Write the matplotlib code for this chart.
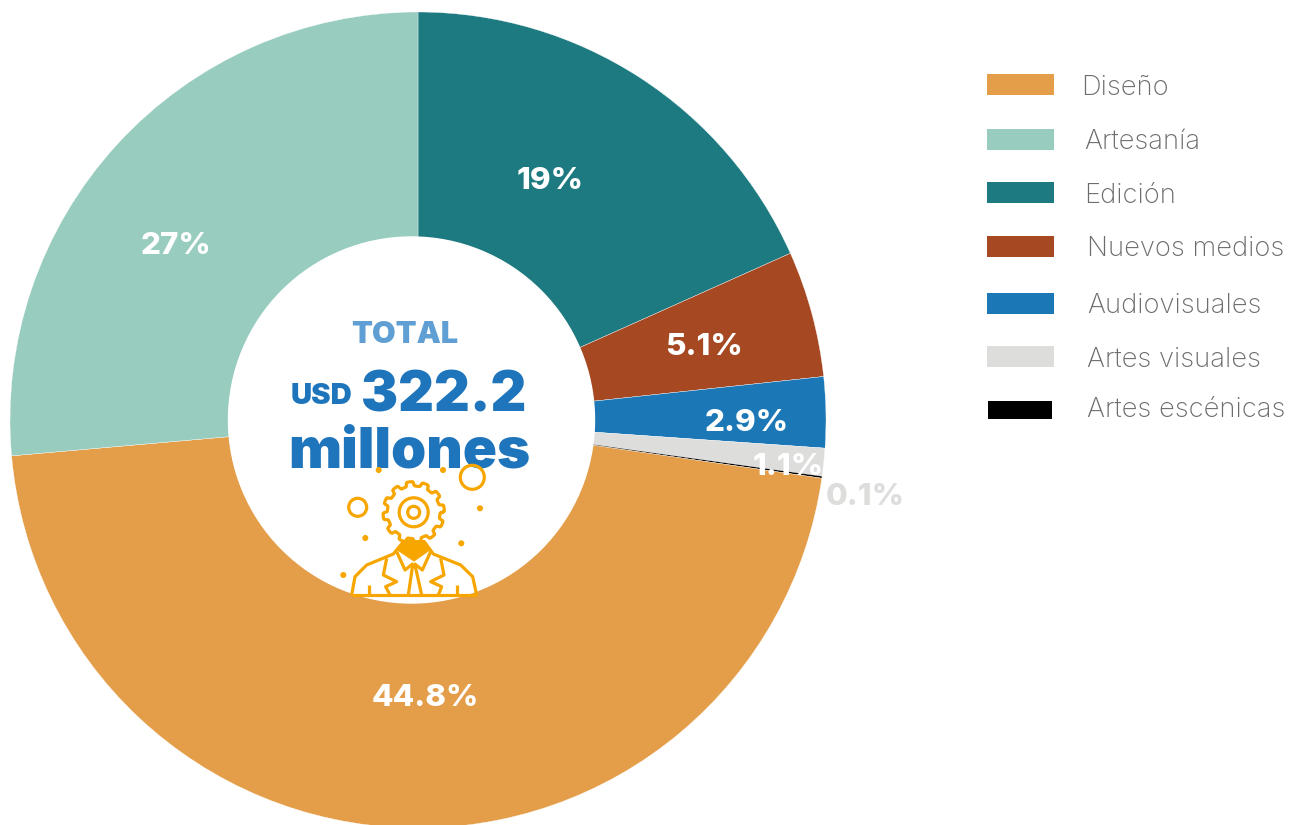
import matplotlib
matplotlib.use("Agg")
import matplotlib.pyplot as plt
import numpy as np
from matplotlib.patches import Circle, Polygon, Rectangle

# wedge shares as measured on the ring, printed labels differ a little
categories = ['Edición', 'Nuevos medios', 'Audiovisuales', 'Artes visuales', 'Artes escénicas', 'Diseño', 'Artesanía']
shares = [18.3, 5.0, 2.8, 1.1, 0.08, 46.32, 26.4]
labels = ['19%', '5.1%', '2.9%', '1.1%', '0.1%', '44.8%', '27%']
colors = ['#1d7a80', '#a64923', '#1b77b6', '#dddddc', '#000000', '#e49d48', '#97ccbf']

legend_order = [5, 6, 0, 1, 2, 3, 4]

W, H = 1291, 825
plt.rcParams['font.family'] = ['Inter', 'DejaVu Sans']

fig = plt.figure(figsize=(W / 100, H / 100), dpi=100)
ax = fig.add_axes([0, 0, 1, 1])

# y goes up in the axes, all layout below was measured in pixels from the top
def py(y):
    return H - y

# zoomed icon coordinates to pixels
def ic(points):
    return [(220 + x / 3, py(300 + y / 3)) for x, y in points]

ax.pie(shares, colors=colors, startangle=90, counterclock=False, center=(418, py(420)), radius=408,
       wedgeprops={'linewidth': 0.25, 'edgecolor': '#ffffff'}, frame=True)
ax.add_patch(Circle((411.5, py(420)), 183, color='white', zorder=3))

label_pos = [(550, 181), (704, 347), (747, 423), (788, 467), (865, 497), (425, 698), (176, 246)]
label_col = ['white', 'white', 'white', 'white', '#dddddc', 'white', 'white']
for t, (x, y), c in zip(labels, label_pos, label_col):
    ax.text(x, py(y), t, color=c, fontsize=22.6, fontweight='heavy', ha='center', va='center', zorder=4)

# legend by hand, the spacing in the original is uneven
swatch_y = [84.5, 139.5, 192.5, 246.5, 303.5, 356.5, 409.5]
text_x = [1081.5, 1084.5, 1084.5, 1087, 1087, 1087, 1087]
text_y = [88, 142, 196, 249, 306, 360, 410]
for i, k in enumerate(legend_order):
    if k == 4:
        ax.add_patch(Rectangle((988, py(swatch_y[i] + 9)), 64, 18, color=colors[k], lw=0))
    else:
        ax.add_patch(Rectangle((987, py(swatch_y[i] + 10.5)), 67, 21, color=colors[k], lw=0))
    ax.text(text_x[i], py(text_y[i]), categories[k], color='#6c6c6c', fontsize=19.7, fontweight='light',
            ha='left', va='center')

# centre text
blue = '#1f75bc'
ax.text(405, py(335), 'TOTAL', color='#5f9fd3', fontsize=22, fontweight='black', ha='center', va='center', zorder=4)
ax.text(322, py(397), 'USD', color=blue, fontsize=21, fontweight='black', ha='center', va='center', zorder=4)
ax.text(443.5, py(397), '322.2', color=blue, fontsize=40, fontweight='black', ha='center', va='center', zorder=4)
ax.text(409, py(453), 'millones', color=blue, fontsize=40.6, fontweight='black', ha='center', va='center', zorder=4)

# icon
gold = '#f7a600'
lw = 2.3
gx, gy = 413.7, py(512.3)
ang = np.linspace(0, 2 * np.pi, 361)
rad = 28.5 + 2.2 * np.tanh(4 * np.sin(12 * ang))
ax.plot(gx + rad * np.cos(ang), gy + rad * np.sin(ang), color=gold, lw=lw, zorder=5)
ax.add_patch(Circle((gx, gy), 14.5, fill=False, ec=gold, lw=lw, zorder=5))
ax.add_patch(Circle((gx, gy), 6, fill=False, ec=gold, lw=lw, zorder=5))
ax.add_patch(Circle((472.3, py(477.3)), 12, fill=False, ec=gold, lw=lw, zorder=5))
ax.add_patch(Circle((357.7, py(507.3)), 9, fill=False, ec=gold, lw=lw, zorder=5))
for x, y in [(378.7, 470), (443, 470), (480, 508.3), (365.3, 538), (461.3, 543.3), (343.3, 575)]:
    ax.add_patch(Circle((x, py(y)), 2.3, color=gold, zorder=5))

body = [
    [(395, 885), (770, 885)],
    [(395, 885), (405, 830), (440, 795), (520, 762), (548, 728)],
    [(770, 885), (758, 830), (722, 795), (640, 762), (615, 728)],
    [(530, 755), (555, 810), (580, 790)],
    [(632, 755), (607, 810), (582, 790)],
    [(565, 885), (578, 795), (585, 795), (605, 885)],
    [(500, 775), (490, 825), (530, 845), (497, 860), (510, 885)],
    [(662, 775), (672, 825), (632, 845), (665, 860), (655, 885)],
    [(447, 855), (447, 885)],
    [(710, 855), (710, 885)],
]
for line in body:
    pts = np.array(ic(line))
    ax.plot(pts[:, 0], pts[:, 1], color=gold, lw=lw, zorder=5, solid_capstyle='butt')
ax.add_patch(Polygon(ic([(548, 720), (615, 720), (632, 750), (582, 785), (530, 750)]), color=gold, lw=0, zorder=5))

ax.set_xlim(0, W)
ax.set_ylim(0, H)
ax.axis('off')

fig.savefig('out.png', dpi=100, facecolor='white')
